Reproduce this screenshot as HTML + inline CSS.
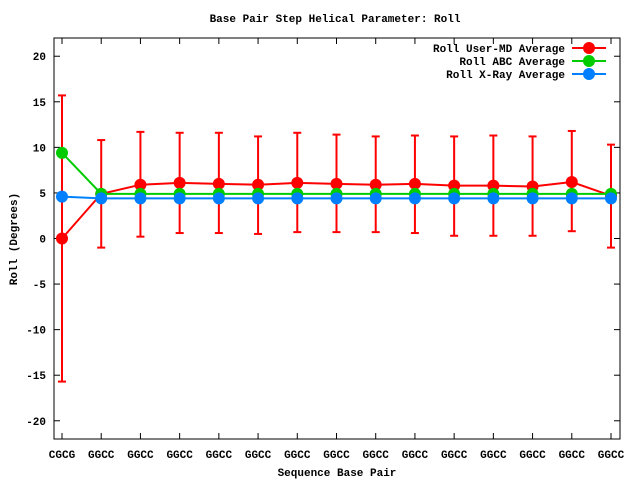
<!DOCTYPE html>
<html><head><meta charset="utf-8"><style>
body{margin:0;background:#fff}
svg text{font-family:"Liberation Mono",monospace;font-size:11px;font-weight:bold;fill:#000}
</style></head><body>
<svg id="chart" width="640" height="480" xmlns="http://www.w3.org/2000/svg">
<rect x="0" y="0" width="640" height="480" fill="#fff"/>
<text x="335" y="22" text-anchor="middle">Base Pair Step Helical Parameter: Roll</text>
<text x="17" y="239" text-anchor="middle" transform="rotate(-90 17 239)">Roll (Degrees)</text>
<text x="337" y="476" text-anchor="middle">Sequence Base Pair</text>
<g id="axes"></g>
<g id="marks"></g>
<g id="legend"></g>
</svg>
<script>
const categories=["CGCG","GGCC","GGCC","GGCC","GGCC","GGCC","GGCC","GGCC","GGCC","GGCC","GGCC","GGCC","GGCC","GGCC","GGCC"];
const userMD=[0,4.9,5.9,6.1,6.0,5.9,6.1,6.0,5.9,6.0,5.8,5.8,5.7,6.2,4.7];
const userMDHigh=[15.7,10.8,11.7,11.6,11.6,11.2,11.6,11.4,11.2,11.3,11.2,11.3,11.2,11.8,10.3];
const userMDLow=[-15.7,-1.0,0.2,0.6,0.6,0.5,0.7,0.7,0.7,0.6,0.3,0.3,0.3,0.8,-1.0];
const abc=[9.4,4.9,4.9,4.9,4.9,4.9,4.9,4.9,4.9,4.9,4.9,4.9,4.9,4.9,4.9];
const xray=[4.6,4.4,4.4,4.4,4.4,4.4,4.4,4.4,4.4,4.4,4.4,4.4,4.4,4.4,4.4];
const yTicks=[-20,-15,-10,-5,0,5,10,15,20];

const NS="http://www.w3.org/2000/svg";
const L=54,R=620,T=38,B=439,yMin=-22,yMax=22;
const xs=i=>62+i*(611-62)/(categories.length-1);
const ys=v=>B-(v-yMin)/(yMax-yMin)*(B-T);
function mk(tag,attrs,parent){const e=document.createElementNS(NS,tag);for(const k in attrs)e.setAttribute(k,attrs[k]);parent.appendChild(e);return e;}
const axes=document.getElementById('axes'),marks=document.getElementById('marks'),leg=document.getElementById('legend');
const frame=mk('rect',{x:L,y:T,width:R-L,height:B-T,fill:'none',stroke:'#000','stroke-width':1},axes);


yTicks.forEach(v=>{const y=ys(v);
 mk('line',{x1:L,x2:L+6,y1:y,y2:y,stroke:'#000'},axes);
 mk('line',{x1:R,x2:R-6,y1:y,y2:y,stroke:'#000'},axes);
 const t=mk('text',{x:L-8,y:y+4,'text-anchor':'end'},axes);t.textContent=v;
 
 
});
categories.forEach((c,i)=>{const x=xs(i);
 mk('line',{x1:x,x2:x,y1:B,y2:B-6,stroke:'#000'},axes);
 mk('line',{x1:x,x2:x,y1:T,y2:T+6,stroke:'#000'},axes);
 const t=mk('text',{x:x,y:B+19,'text-anchor':'middle'},axes);t.textContent=c;
 
 
});
function series(vals,color,name){
 const p=mk('polyline',{points:vals.map((v,i)=>xs(i)+','+ys(v)).join(' '),fill:'none',stroke:color,'stroke-width':2},marks);
 
 
 vals.forEach((v,i)=>{const c=mk('circle',{cx:xs(i),cy:ys(v),r:6,fill:color},marks);
  
  });
}
// error bars
userMD.forEach((v,i)=>{const x=xs(i),y1=ys(userMDHigh[i]),y2=ys(userMDLow[i]);
 const g=mk('g',{stroke:'#f00','stroke-width':2},marks);
 
 
 mk('line',{x1:x,x2:x,y1:y1,y2:y2},g);
 mk('line',{x1:x-4,x2:x+4,y1:y1,y2:y1},g);
 mk('line',{x1:x-4,x2:x+4,y1:y2,y2:y2},g);
});
series(userMD,'#f00','user-md');
series(abc,'#0c0','abc');
series(xray,'#0080ff','xray');
[["Roll User-MD Average","#f00",48],["Roll ABC Average","#0c0",61],["Roll X-Ray Average","#0080ff",74]].forEach(([lab,col,y])=>{
 const t=mk('text',{x:565,y:y+4,'text-anchor':'end'},leg);t.textContent=lab;
 
 
 mk('line',{x1:572,x2:606,y1:y,y2:y,stroke:col,'stroke-width':2},leg);
 mk('circle',{cx:589,cy:y,r:6,fill:col},leg);
});
</script>
</body></html>
